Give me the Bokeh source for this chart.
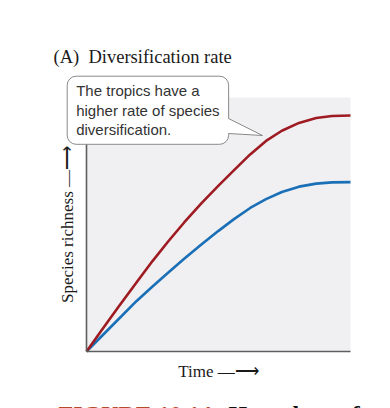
from bokeh.plotting import figure
from bokeh.models import Range1d, Label, LinearAxis, FixedTicker, BoxAnnotation
from bokeh.embed import file_html
from bokeh.resources import INLINE

# ---- data (arbitrary units 0-100) ----
time = [0, 6, 12, 19, 25, 31, 37, 43.5, 50, 56, 62, 68, 74, 80.5, 87, 93, 100]
tropics = [0, 8.8, 17.4, 27.3, 35.6, 43.4, 50.8, 58.3, 65.3, 71.5, 77.6, 82.9, 86.9,
           90.0, 91.9, 92.7, 92.9]
temperate = [0, 6.3, 12.6, 19.9, 25.6, 31.1, 36.5, 42.1, 47.5, 52.2, 56.5, 60.0, 62.8,
             64.9, 66.1, 66.6, 66.7]

title_text = "(A)\u00a0 Diversification rate"
callout_text = "The tropics have a\nhigher rate of species\ndiversification."
x_label = "Time \u2014\u27f6"
y_label = "Species richness \u2014\u27f6"
caption_num = "FIGURE 10.14"
caption_text = "Hypotheses for the gradient"

RED = "#9e1b22"
BLUE = "#1a6fb6"
SERIF = "Liberation Serif"

W, H = 390, 408
# plot region on the page: x 86..350, y 351 (bottom) .. 97 (top)
XS = 264 / 100.0
YS = 254 / 100.0
x_range = Range1d(-86 / XS, (W - 86) / XS)
y_range = Range1d((351 - H) / YS, 351 / YS)

p = figure(width=W, height=H, x_range=x_range, y_range=y_range,
           output_backend="svg", toolbar_location=None,
           x_axis_location=None, y_axis_location=None, min_border=0)
p.grid.visible = False
p.background_fill_color = "white"
p.border_fill_color = "white"
p.outline_line_color = None

p.add_layout(BoxAnnotation(left=0, right=100, bottom=0, top=100,
                           fill_color="#f0f0f2", fill_alpha=1, line_color=None,
                           level="underlay"))

xaxis = LinearAxis(fixed_location=0, bounds=(0, 100), axis_label=x_label)
yaxis = LinearAxis(fixed_location=0, bounds=(0, 100), axis_label=y_label)
for ax in (xaxis, yaxis):
    ax.ticker = FixedTicker(ticks=[])
    ax.major_tick_line_color = None
    ax.minor_tick_line_color = None
    ax.major_tick_out = 0
    ax.minor_tick_out = 0
    ax.major_label_text_font_size = "0px"
    ax.major_label_standoff = 0
    ax.axis_line_color = "#5f5f5f"
    ax.axis_line_width = 1.6
    ax.axis_label_text_font = SERIF
    ax.axis_label_text_font_style = "normal"
    ax.axis_label_text_font_size = "17px"
    ax.axis_label_text_color = "#1a1a1a"
    ax.axis_label_standoff = 10
p.add_layout(xaxis, "below")
p.add_layout(yaxis, "left")

p.line(time, temperate, line_color=BLUE, line_width=2.6, line_join="round")
p.line(time, tropics, line_color=RED, line_width=2.6, line_join="round")

def dx(px):
    return (px - 86) / XS

def dy(py):
    return (351 - py) / YS

p.add_layout(Label(x=53, y=56, x_units="canvas", y_units="canvas",
                   text=title_text, text_font=SERIF,
                   text_font_size="18.5px", text_color="#1a1a1a",
                   text_align="left", text_baseline="alphabetic"))

p.add_layout(Label(x=66.7, y=75.7, x_units="canvas", y_units="canvas",
                   text=callout_text, text_font="Liberation Sans",
                   text_font_size="15px", text_color="#333333", text_line_height=1.15,
                   text_align="left", text_baseline="top",
                   background_fill_color="white", border_line_color="#8a8a8a",
                   border_line_width=1, border_radius=9,
                   padding=dict(left=9, right=9, top=6, bottom=6)))

# callout pointer
p.patch([dx(221), dx(228), dx(262), dx(228), dx(221)],
        [dy(118.5), dy(118), dy(135), dy(133), dy(132.5)],
        fill_color="white", line_color=None, level="overlay")
p.line([dx(228), dx(262), dx(228)], [dy(118), dy(135), dy(133)],
       line_color="#8a8a8a", line_width=1, level="overlay")

# figure caption, cut off at the bottom edge as in the source
p.add_layout(Label(x=58, y=413, x_units="canvas", y_units="canvas",
                   text=caption_num, text_font=SERIF,
                   text_font_style="bold", text_font_size="24px", text_color="#b5472b",
                   text_align="left", text_baseline="alphabetic"))
p.add_layout(Label(x=228, y=413, x_units="canvas", y_units="canvas",
                   text=caption_text, text_font=SERIF,
                   text_font_style="bold", text_font_size="24px", text_color="#111111",
                   text_align="left", text_baseline="alphabetic"))

open("out.html", "w").write(file_html(p, INLINE))
